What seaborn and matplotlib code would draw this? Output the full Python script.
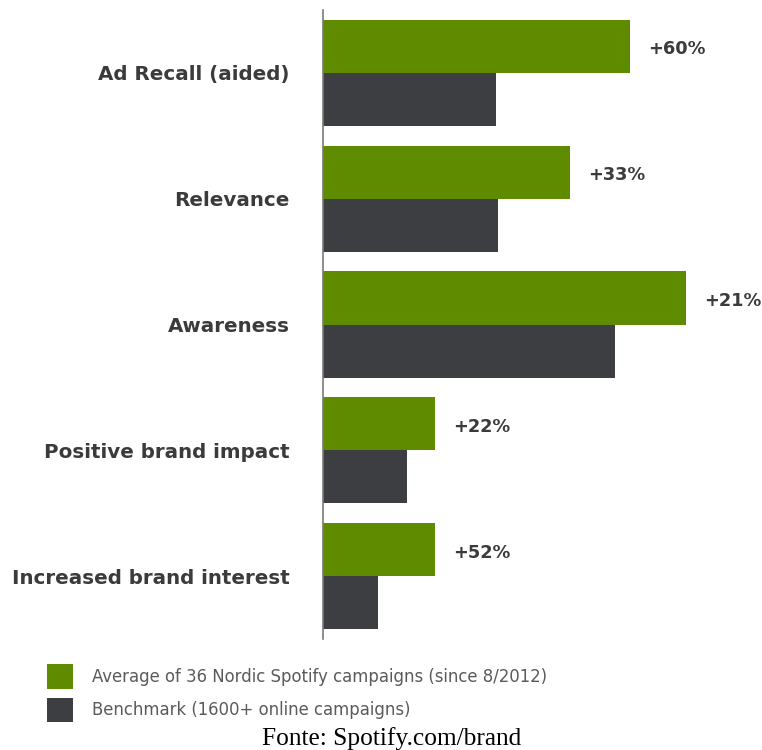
import matplotlib
matplotlib.use("Agg")
import matplotlib.pyplot as plt
import seaborn as sns
import pandas as pd
from matplotlib.patches import Patch
from matplotlib.transforms import offset_copy

categories = ["Ad Recall (aided)", "Relevance", "Awareness",
              "Positive brand impact", "Increased brand interest"]
spotify_vals = [307, 247, 363, 112, 112]
benchmark_vals = [173, 175, 292, 84, 55]
uplift_labels = ["+60%", "+33%", "+21%", "+22%", "+52%"]
series_names = ["Average of 36 Nordic Spotify campaigns (since 8/2012)",
                "Benchmark (1600+ online campaigns)"]

GREEN = "#5f8b00"
DARK = "#3d3e41"

df = pd.DataFrame({
    "category": categories * 2,
    "value": spotify_vals + benchmark_vals,
    "series": [series_names[0]] * 5 + [series_names[1]] * 5,
})

sns.set_theme(style="white")
plt.rcParams['font.family'] = ['DejaVu Sans']

W, H = 762, 750
fig = plt.figure(figsize=(W / 100, H / 100), dpi=100)
ax = fig.add_axes([323 / W, (H - 639) / H, 439 / W, 629 / H])

sns.barplot(data=df, y="category", x="value", hue="series", orient="h",
            palette=[GREEN, DARK], width=0.845, linewidth=0, saturation=1,
            ax=ax, legend=False)

ax.set_xlim(0, 439)
ax.set_ylim(4.5, -0.5)
ax.set_xlabel("")
ax.set_ylabel("")
ax.set_xticks([])
for s in ["top", "right", "bottom"]:
    ax.spines[s].set_visible(False)
ax.spines["left"].set_color("#7a7a7a")
ax.spines["left"].set_linewidth(1.2)
ax.tick_params(axis="y", length=0, pad=24)
ax.set_yticks(range(len(categories)))
ax.set_yticklabels(categories, fontsize=14.35, fontweight="bold", color="#3b3b3b")

# uplift labels next to green bars (slightly below bar centre, as in the original)
green_bars = ax.containers[0]
trans = offset_copy(ax.transData, fig=fig, x=0, y=-3, units="dots")
for bar, lab in zip(green_bars, uplift_labels):
    x = bar.get_x() + bar.get_width()
    yc = bar.get_y() + bar.get_height() / 2
    ax.text(x + 18, yc, lab, ha="left", va="center", fontsize=12.8,
            fontweight="bold", color="#3b3b3b", transform=trans, clip_on=False)

handles = [Patch(facecolor=GREEN, edgecolor="none"),
           Patch(facecolor=DARK, edgecolor="none")]
fig.legend(handles, series_names, loc="upper left",
           bbox_to_anchor=(47 / W, 1 - 664 / H), frameon=False,
           fontsize=11.9, labelcolor="#5a5a5a", handlelength=1.58,
           handleheight=1.93, handletextpad=1.15, labelspacing=0.54,
           borderpad=0, borderaxespad=0)

fig.text(392 / W, 1 - 739 / H, "Fonte: Spotify.com/brand", ha="center",
         va="center", fontsize=18.3, family="Liberation Serif", color="black")

fig.savefig("out.png", dpi=100)
